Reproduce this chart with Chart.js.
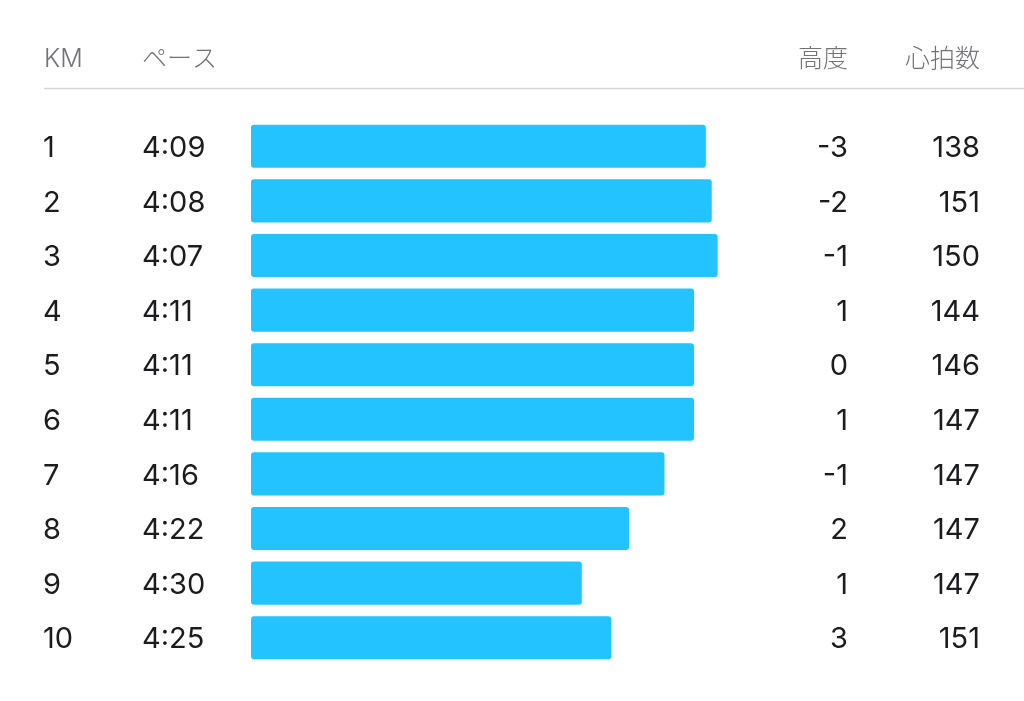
<!DOCTYPE html>
<html lang="ja">
<head>
    <meta charset="UTF-8">
    <title>ラップ</title>
    <script src="https://cdn.jsdelivr.net/npm/chart.js"></script>
    <style>
        html, body { margin: 0; padding: 0; background: #fff; }
        canvas { display: block; }
    </style>
</head>
<body>
    <canvas id="splits" width="1024" height="701"></canvas>

    <script>
        // split data
        const km = ["1", "2", "3", "4", "5", "6", "7", "8", "9", "10"];
        const pace = ["4:09", "4:08", "4:07", "4:11", "4:11", "4:11", "4:16", "4:22", "4:30", "4:25"];
        const altitude = [-3, -2, -1, 1, 0, 1, -1, 2, 1, 3];
        const heartRate = [138, 151, 150, 144, 146, 147, 147, 147, 147, 151];
        const headers = ["KM", "ペース", "高度", "心拍数"];

        const paceSeconds = pace.map(p => {
            const [m, s] = p.split(":");
            return Number(m) * 60 + Number(s);
        });

        const FONT = "Inter, 'Noto Sans CJK JP', sans-serif";

        // draws the table columns next to the bars
        const columnsPlugin = {
            id: "columns",
            afterDraw(chart) {
                const ctx = chart.ctx;
                const yScale = chart.scales.y;
                ctx.save();

                // header
                ctx.fillStyle = "#727277";
                ctx.font = "300 25px " + FONT;
                ctx.textBaseline = "alphabetic";
                ctx.textAlign = "left";
                ctx.fillText(headers[0], 44, 67);
                ctx.fillText(headers[1], 142, 67);
                ctx.textAlign = "right";
                ctx.fillText(headers[2], 848, 67);
                ctx.fillText(headers[3], 980, 67);

                ctx.strokeStyle = "#d6d6da";
                ctx.lineWidth = 1.5;
                ctx.beginPath();
                ctx.moveTo(44, 88.5);
                ctx.lineTo(1024, 88.5);
                ctx.stroke();

                // rows
                ctx.fillStyle = "#1c1c1e";
                ctx.font = "400 29px " + FONT;
                ctx.textBaseline = "middle";
                km.forEach((k, i) => {
                    const y = yScale.getPixelForValue(i) + 2;
                    ctx.textAlign = "left";
                    ctx.fillText(k, 43, y);
                    ctx.fillText(pace[i], 142, y);
                    ctx.textAlign = "right";
                    ctx.fillText(String(altitude[i]), 848, y);
                    ctx.fillText(String(heartRate[i]), 980, y);
                });
                ctx.restore();
            }
        };

        new Chart(document.getElementById("splits"), {
            type: "bar",
            data: {
                labels: km,
                datasets: [{
                    data: paceSeconds,
                    base: 326,
                    backgroundColor: "#22c3ff",
                    borderWidth: 0,
                    borderRadius: 3,
                    borderSkipped: false,
                    barPercentage: 0.79,
                    categoryPercentage: 1
                }]
            },
            options: {
                indexAxis: "y",
                responsive: false,
                devicePixelRatio: 1,
                animation: false,
                layout: { padding: { left: 251, right: 265, top: 119, bottom: 36 } },
                plugins: {
                    legend: { display: false },
                    tooltip: { enabled: false }
                },
                scales: {
                    x: { type: "linear", reverse: true, min: 240, max: 326, display: false },
                    y: { display: false }
                }
            },
            plugins: [columnsPlugin]
        });
    </script>
</body>
</html>
